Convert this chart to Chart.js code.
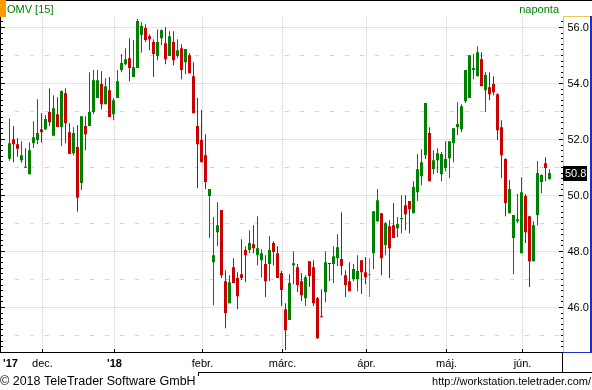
<!DOCTYPE html>
<html>
<head>
<meta charset="utf-8">
<script src="https://cdn.jsdelivr.net/npm/chart.js@4"></script>
<style>
  html, body { margin: 0; padding: 0; background: #fff; }
  #wrap { width: 592px; height: 390px; }
</style>
</head>
<body>
<div id="wrap"><canvas id="chart" width="592" height="390"></canvas></div>
<script>
// OMV napi gyertyák, 2017. nov. 21 – 2018. jún. 12 (kereskedési napok sorszáma szerint)
const opens = [
  51.31, 52.01, 51.83, 51.26, 51.01, 50.76, 51.87, 51.98, 52.37, 52.37,
  52.98, 52.13, 52.90, 52.45, 53.65, 52.26, 51.51, 51.73, 50.45, 52.48,
  52.48, 52.98, 53.48, 53.98, 53.26, 53.76, 52.90, 53.48, 54.48, 54.69,
  54.90, 54.23, 54.55, 55.73, 55.98, 55.69, 55.48, 54.98, 55.62, 55.44,
  54.98, 55.48, 54.98, 55.26, 54.76, 55.01, 54.26, 52.48, 51.98, 51.44,
  49.98, 47.62, 48.69, 49.48, 46.94, 46.15, 47.44, 47.05, 47.19, 48.05,
  48.05, 48.26, 47.87, 47.69, 47.55, 47.55, 48.30, 47.94, 47.23, 45.94,
  45.55, 47.51, 47.44, 46.94, 46.33, 47.65, 47.44, 46.33, 45.69, 46.55,
  47.58, 47.55, 47.76, 47.73, 47.15, 46.94, 47.01, 47.01, 47.69, 47.26,
  47.15, 47.94, 49.08, 49.37, 48.23, 48.90, 48.94, 48.83, 49.16, 49.65,
  49.80, 49.37, 50.12, 50.69, 51.44, 52.23, 50.94, 51.26, 50.76, 50.98,
  51.33, 51.87, 52.44, 52.37, 53.37, 53.48, 54.48, 54.26, 54.87, 53.76,
  53.87, 53.98, 53.62, 52.44, 51.30, 49.37, 48.48, 49.08, 47.94, 49.98,
  49.26, 47.65, 49.30, 50.48, 51.15, 50.58
];
const highs = [
  52.75, 52.48, 52.05, 51.94, 51.69, 51.90, 52.65, 53.44, 52.94, 52.87,
  53.83, 53.58, 53.51, 53.76, 53.83, 52.58, 52.44, 52.51, 52.83, 52.83,
  54.40, 54.48, 54.48, 54.44, 54.19, 54.23, 53.48, 54.48, 55.05, 55.26,
  55.62, 55.55, 56.30, 56.19, 56.12, 55.76, 55.58, 55.94, 55.94, 56.01,
  55.87, 55.87, 55.58, 55.40, 55.23, 55.08, 54.76, 53.48, 53.05, 52.19,
  50.23, 49.23, 49.76, 49.48, 47.33, 47.15, 47.76, 47.26, 48.44, 48.19,
  48.76, 48.94, 49.26, 48.08, 47.87, 48.55, 48.37, 48.19, 47.30, 46.15,
  47.19, 48.01, 47.55, 47.23, 47.15, 47.65, 47.69, 46.37, 46.65, 48.01,
  47.58, 48.19, 48.62, 49.40, 47.33, 47.62, 47.55, 47.87, 47.69, 47.80,
  47.76, 49.44, 50.23, 49.37, 49.05, 49.12, 49.73, 49.23, 50.01, 50.01,
  49.80, 50.51, 51.48, 51.65, 53.30, 52.44, 51.62, 51.69, 51.55, 51.94,
  51.94, 52.40, 53.33, 53.26, 54.48, 55.01, 55.05, 55.33, 55.12, 54.40,
  54.40, 54.26, 53.65, 52.69, 51.33, 50.55, 49.30, 50.05, 50.65, 50.05,
  49.26, 49.08, 51.23, 50.76, 51.37, 50.94
];
const lows = [
  51.24, 51.19, 51.38, 51.17, 50.99, 50.76, 51.70, 51.83, 51.88, 52.33,
  52.48, 52.13, 52.45, 51.76, 51.87, 51.48, 51.44, 49.42, 50.20, 51.62,
  52.48, 52.90, 53.48, 53.08, 53.26, 52.80, 52.69, 53.48, 54.40, 54.65,
  54.08, 54.23, 54.55, 55.10, 55.48, 55.19, 54.23, 54.83, 55.37, 54.69,
  54.98, 54.65, 54.90, 54.15, 54.33, 54.37, 52.94, 50.26, 51.19, 50.23,
  48.48, 46.08, 48.19, 47.05, 45.26, 46.15, 46.87, 45.94, 46.98, 46.90,
  47.94, 47.94, 47.51, 47.08, 46.37, 46.94, 47.51, 47.05, 46.05, 44.48,
  45.55, 46.83, 46.55, 46.23, 46.05, 46.73, 46.05, 44.87, 45.65, 46.19,
  46.94, 46.87, 47.48, 47.15, 46.37, 46.58, 46.94, 46.58, 46.48, 46.83,
  46.37, 47.37, 49.05, 47.15, 47.87, 47.05, 48.48, 48.51, 48.65, 48.76,
  48.65, 49.37, 49.80, 50.37, 51.30, 50.51, 50.76, 50.80, 50.51, 50.87,
  50.62, 51.19, 52.15, 52.26, 53.30, 53.48, 54.15, 54.26, 53.90, 52.98,
  53.40, 53.58, 51.98, 50.62, 49.26, 49.37, 47.19, 49.01, 47.94, 48.30,
  46.73, 47.65, 48.94, 50.08, 50.51, 50.58
];
const closes = [
  51.87, 51.83, 51.67, 51.44, 50.99, 51.62, 52.08, 52.23, 52.26, 52.73,
  52.62, 53.12, 52.45, 53.73, 52.58, 51.48, 52.23, 49.92, 52.83, 52.19,
  52.98, 54.12, 54.12, 53.26, 53.90, 52.80, 53.40, 54.08, 54.73, 54.87,
  54.55, 54.58, 56.23, 56.05, 55.55, 55.58, 55.05, 55.48, 55.90, 54.87,
  55.69, 54.83, 55.19, 54.48, 55.23, 54.37, 52.94, 51.83, 51.19, 50.48,
  50.23, 47.87, 48.94, 47.15, 45.80, 46.90, 46.87, 46.40, 47.05, 47.87,
  48.30, 48.12, 48.12, 47.94, 46.94, 48.05, 47.98, 47.05, 46.62, 45.19,
  46.87, 47.58, 46.80, 46.44, 47.08, 47.12, 46.15, 44.90, 45.65, 47.62,
  47.55, 47.83, 48.15, 47.48, 46.80, 46.58, 47.37, 47.30, 47.26, 47.08,
  47.15, 49.44, 49.83, 47.76, 49.01, 48.12, 48.48, 48.98, 49.19, 49.33,
  49.51, 50.30, 50.94, 51.19, 53.30, 50.51, 51.26, 51.51, 51.48, 51.30,
  51.94, 52.40, 52.55, 53.19, 54.48, 55.01, 54.55, 55.12, 53.90, 54.30,
  53.62, 53.69, 52.33, 51.44, 49.73, 50.23, 49.30, 49.15, 50.12, 48.69,
  47.65, 48.94, 50.80, 50.73, 50.98, 50.80
];

// hónapok első kereskedési napja (gyertya sorszám) és felirata
const monthStarts = [0, 8, 26, 48, 68, 89, 109, 128];
const monthLabels = ["'17", 'dec.', "'18", 'febr.', 'márc.', 'ápr.', 'máj.', 'jún.'];
const priceLabels = [46, 48, 50, 52, 54, 56];
const halfLines = [45, 47, 49, 51, 53, 55];

const FONT = "'Liberation Sans', Arial, sans-serif";
const GREEN = '#008000';
const RED = '#cc0000';
const GRAY = '#808080';

function candleColor(i) {
  if (closes[i] > opens[i]) return GREEN;
  if (closes[i] < opens[i]) return RED;
  return GRAY;
}

const bodies = opens.map((o, i) => ({ x: i, y: [o, closes[i]] }));
const wicks = opens.map((o, i) => ({ x: i, y: [lows[i], highs[i]] }));

const crisp = v => Math.floor(v) + 0.5;

const framePlugin = {
  id: 'frame',
  beforeDatasetsDraw(chart) {
    const { ctx, chartArea: a, scales: { x, y } } = chart;
    ctx.save();
    ctx.lineWidth = 1;
    ctx.strokeStyle = '#c8c8c8';

    // pontozott fő rácsvonalak
    ctx.setLineDash([1, 1]);
    priceLabels.forEach(v => {
      const py = crisp(y.getPixelForValue(v));
      ctx.beginPath(); ctx.moveTo(a.left, py); ctx.lineTo(a.right, py); ctx.stroke();
    });
    monthStarts.slice(1).forEach(k => {
      const px = crisp(x.getPixelForValue(k) + 1);
      ctx.beginPath(); ctx.moveTo(px, a.top); ctx.lineTo(px, a.bottom); ctx.stroke();
    });

    // szaggatott köztes vonalak
    ctx.strokeStyle = '#d4d4d4';
    ctx.setLineDash([4, 11]);
    ctx.lineDashOffset = 3.5;
    halfLines.forEach(v => {
      const py = crisp(y.getPixelForValue(v));
      ctx.beginPath(); ctx.moveTo(a.left, py); ctx.lineTo(a.right, py); ctx.stroke();
    });
    ctx.restore();
  },
  afterDraw(chart) {
    const { ctx, chartArea: a, scales: { x, y } } = chart;
    const W = chart.width;
    ctx.save();

    // felső vonal, narancs jelölő
    ctx.fillStyle = '#000';
    ctx.fillRect(0, 0, W, 1);
    ctx.fillStyle = '#ff9900';
    ctx.fillRect(0, 0, 6, 17);

    // bal tengely
    ctx.fillStyle = '#000';
    ctx.fillRect(0, a.top, 1, a.bottom - a.top);
    // alsó tengely + felirat sor
    ctx.fillRect(0, Math.floor(a.bottom), 563, 1);
    ctx.fillRect(562, Math.floor(a.bottom), 1, 20);
    ctx.fillRect(198, 372, W - 198, 1);
    ctx.fillRect(198, 372, 1, 4);
    monthStarts.slice(1).forEach(k => {
      ctx.fillRect(Math.floor(x.getPixelForValue(k) + 1), Math.floor(a.bottom) - 3, 1, 3);
    });

    // osztások mindkét oldalon (0.2-es lépés)
    for (let i = 223; i <= 281; i++) {
      const v = i / 5;
      const row = Math.floor(y.getPixelForValue(v));
      if (row < a.top || row >= a.bottom) continue;
      const major = i % 10 === 0;
      ctx.fillRect(0, row, major ? 5 : 3, 1);
      ctx.fillRect(major ? 559 : 561, row, major ? 4 : 2, 1);
    }

    // jobb oldali árpanel kerete
    ctx.fillStyle = '#f0c850';
    ctx.fillRect(563, 16, 1, a.bottom - 16);
    ctx.fillRect(563, 16, W - 563, 1);
    ctx.fillStyle = '#1830d0';
    ctx.fillRect(590, 16, 2, a.bottom - 16);
    ctx.fillRect(563, Math.floor(a.bottom), W - 563, 1);

    // utolsó ár címke
    const last = closes[closes.length - 1];
    const ly = Math.round(y.getPixelForValue(last));
    ctx.fillStyle = '#000';
    ctx.fillRect(563, ly - 7, 24, 15);
    ctx.fillStyle = '#fff';
    ctx.font = '11px ' + FONT;
    ctx.textBaseline = 'middle';
    ctx.textAlign = 'left';
    ctx.fillText(last.toFixed(1), 565, ly + 0.5);

    // címsor
    ctx.textBaseline = 'alphabetic';
    ctx.fillStyle = GREEN;
    ctx.fillText('OMV [15]', 7, 13);
    ctx.textAlign = 'right';
    ctx.fillText('naponta', 559, 13);

    // lábléc
    ctx.fillStyle = '#000';
    ctx.textAlign = 'left';
    ctx.font = '12.5px ' + FONT;
    ctx.fillText('© 2018 TeleTrader Software GmbH', 0, 385);
    ctx.textAlign = 'right';
    ctx.font = '11px ' + FONT;
    ctx.fillText('http://workstation.teletrader.com/', 591, 385);
    ctx.restore();
  }
};

new Chart(document.getElementById('chart'), {
  type: 'bar',
  data: {
    datasets: [
      {
        label: 'body',
        data: bodies,
        backgroundColor: c => candleColor(c.dataIndex),
        barThickness: 3,
        minBarLength: 1,
        grouped: false,
        inflateAmount: 0,
        borderWidth: 0
      },
      {
        label: 'wick',
        data: wicks,
        backgroundColor: c => candleColor(c.dataIndex),
        barThickness: 1,
        grouped: false,
        inflateAmount: 0,
        borderWidth: 0
      }
    ]
  },
  options: {
    responsive: false,
    animation: false,
    devicePixelRatio: 1,
    layout: { padding: { left: 3.5, top: 17, right: 0, bottom: 0 } },
    plugins: { legend: { display: false }, tooltip: { enabled: false } },
    scales: {
      x: {
        type: 'linear',
        position: 'bottom',
        offset: false,
        min: -1.5,
        max: 138.5,
        afterFit: s => { s.height = 38; s.paddingLeft = 0; s.paddingRight = 0; },
        afterBuildTicks: s => { s.ticks = monthStarts.map(v => ({ value: v })); },
        grid: { display: false, drawTicks: false, offset: false },
        border: { display: false },
        ticks: {
          autoSkip: false,
          maxRotation: 0,
          padding: 5,
          labelOffset: 1,
          color: '#000',
          font: c => {
            const lbl = monthLabels[c.index] || '';
            return { family: FONT, size: 11, weight: lbl.startsWith("'") ? 'bold' : 'normal' };
          },
          callback: (v, i) => monthLabels[i]
        }
      },
      y: {
        type: 'linear',
        position: 'right',
        min: 44.41,
        max: 56.375,
        afterFit: s => { s.width = 28.5; },
        afterBuildTicks: s => { s.ticks = priceLabels.map(v => ({ value: v })); },
        grid: { display: false, drawTicks: false },
        border: { display: false },
        ticks: {
          padding: 4,
          color: '#000',
          font: { family: FONT, size: 11 },
          callback: v => Number(v).toFixed(1)
        }
      }
    }
  },
  plugins: [framePlugin]
});
</script>
</body>
</html>
